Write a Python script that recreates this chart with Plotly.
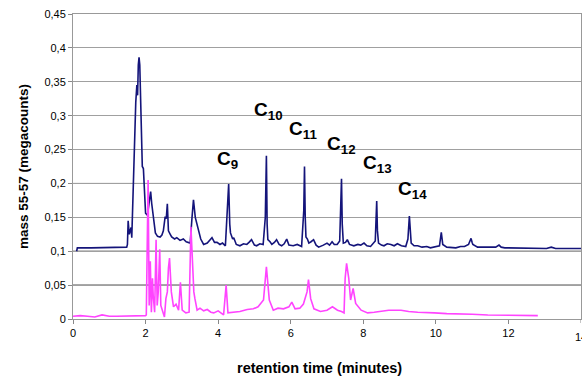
import plotly.graph_objects as go

# ---- data ----
blue_t = [0.10,0.12,0.5,1.0,1.48,1.50,1.52,1.55,1.60,1.62,1.67,1.70,1.73,1.76,1.78,1.80,1.82,1.84,1.86,1.88,
          1.91,1.94,1.97,2.00,2.05,2.10,2.14,2.17,2.20,2.24,2.27,2.33,2.40,2.45,2.49,2.54,2.57,2.60,2.63,2.68,
          2.72,2.80,2.86,2.95,3.04,3.12,3.23,3.28,3.32,3.37,3.42,3.46,3.52,3.60,3.70,3.78,3.83,3.90,3.97,4.05,
          4.12,4.20,4.25,4.29,4.32,4.34,4.40,4.43,4.50,4.60,4.70,4.79,4.85,4.92,5.00,5.06,5.15,5.24,5.30,5.33,
          5.35,5.37,5.43,5.48,5.55,5.61,5.68,5.75,5.82,5.89,5.95,6.07,6.18,6.30,6.36,6.38,6.40,6.42,6.46,6.50,
          6.56,6.63,6.70,6.77,6.90,7.00,7.07,7.14,7.20,7.28,7.35,7.40,7.42,7.45,7.51,7.56,7.62,7.74,7.85,7.93,
          8.02,8.10,8.20,8.33,8.37,8.39,8.42,8.50,8.57,8.66,8.76,8.85,8.94,9.05,9.17,9.23,9.27,9.29,9.32,9.40,
          9.50,9.62,9.75,9.85,9.96,10.10,10.15,10.17,10.19,10.30,10.42,10.55,10.68,10.79,10.90,10.97,11.00,11.02,11.15,11.34,
          11.50,11.65,11.74,11.80,11.90,12.10,12.30,12.50,12.72,12.90,13.05,13.18,13.30,13.50,13.64,13.80,14.00]
blue_v = [0.100,0.105,0.105,0.106,0.106,0.110,0.145,0.125,0.135,0.120,0.215,0.260,0.320,0.345,0.330,0.375,0.386,0.375,0.340,0.310,
          0.225,0.222,0.180,0.156,0.153,0.175,0.188,0.170,0.156,0.135,0.127,0.122,0.121,0.124,0.130,0.151,0.148,0.170,0.130,0.125,
          0.121,0.118,0.120,0.116,0.118,0.114,0.112,0.150,0.176,0.150,0.138,0.130,0.118,0.110,0.112,0.117,0.120,0.113,0.113,0.110,
          0.112,0.108,0.170,0.199,0.140,0.127,0.118,0.120,0.110,0.108,0.111,0.110,0.113,0.117,0.109,0.108,0.111,0.110,0.150,0.241,
          0.140,0.117,0.114,0.110,0.113,0.117,0.110,0.108,0.111,0.118,0.109,0.108,0.110,0.107,0.160,0.225,0.150,0.121,0.118,0.112,
          0.114,0.117,0.109,0.106,0.109,0.112,0.109,0.114,0.110,0.110,0.115,0.207,0.140,0.112,0.113,0.117,0.110,0.108,0.110,0.109,
          0.112,0.108,0.107,0.115,0.174,0.130,0.112,0.109,0.108,0.111,0.110,0.108,0.111,0.108,0.107,0.118,0.152,0.125,0.112,0.108,
          0.108,0.106,0.107,0.105,0.106,0.108,0.128,0.115,0.110,0.106,0.106,0.105,0.107,0.107,0.110,0.119,0.113,0.110,0.106,0.106,
          0.105,0.106,0.109,0.106,0.105,0.105,0.104,0.104,0.104,0.105,0.104,0.106,0.104,0.104,0.104,0.103,0.104]

pink_t = [0.00,0.20,0.40,0.60,0.80,1.00,1.20,1.40,1.60,1.80,2.00,2.02,2.07,2.10,2.13,2.16,2.19,2.21,2.25,2.29,
          2.32,2.35,2.39,2.42,2.47,2.52,2.56,2.60,2.63,2.66,2.71,2.77,2.84,2.91,2.96,3.01,3.11,3.20,3.25,3.30,
          3.33,3.36,3.42,3.50,3.60,3.70,3.80,3.88,4.00,4.15,4.22,4.27,4.40,4.60,4.80,4.97,5.10,5.25,5.33,5.41,
          5.52,5.65,5.80,5.95,6.03,6.12,6.25,6.35,6.45,6.49,6.55,6.64,6.82,7.00,7.15,7.29,7.40,7.47,7.50,7.54,
          7.60,7.65,7.72,7.79,7.94,8.12,8.30,8.49,8.70,9.04,9.25,9.50,9.75,9.96,10.30,10.69,11.00,11.43,11.80,12.17,
          12.50,12.81]
pink_v = [0.004,0.005,0.004,0.003,0.006,0.004,0.004,0.004,0.005,0.004,0.005,0.006,0.205,0.020,0.085,0.010,0.060,0.035,0.010,0.117,
          0.020,0.040,0.103,0.020,0.013,0.003,0.030,0.040,0.075,0.090,0.040,0.018,0.022,0.013,0.054,0.013,0.009,0.010,0.136,0.062,
          0.040,0.030,0.013,0.016,0.012,0.014,0.010,0.009,0.012,0.006,0.050,0.009,0.010,0.011,0.014,0.015,0.018,0.028,0.077,0.028,
          0.013,0.016,0.015,0.018,0.025,0.015,0.016,0.022,0.040,0.058,0.030,0.015,0.011,0.013,0.018,0.013,0.011,0.009,0.060,0.082,
          0.060,0.028,0.045,0.023,0.013,0.009,0.010,0.011,0.013,0.013,0.011,0.010,0.009,0.009,0.008,0.008,0.007,0.006,0.006,0.005,
          0.005,0.005]

label_text = ["9", "10", "11", "12", "13", "14"]
label_x = [3.90, 4.92, 5.89, 6.94, 7.93, 8.90]
label_y = [0.235, 0.307, 0.279, 0.257, 0.229, 0.191]

y_ticks = [0, 0.05, 0.1, 0.15, 0.2, 0.25, 0.3, 0.35, 0.4, 0.45]
y_tick_text = ["0", "0,05", "0,1", "0,15", "0,2", "0,25", "0,3", "0,35", "0,4", "0,45"]
x_ticks = [0, 2, 4, 6, 8, 10, 12]
x_last_tick = 14

FONT = "Liberation Sans, Arial, sans-serif"

fig = go.Figure()
fig.add_trace(go.Scatter(x=blue_t, y=blue_v, mode="lines",
                         line=dict(color="#14147a", width=1.6), showlegend=False))
fig.add_trace(go.Scatter(x=pink_t, y=pink_v, mode="lines",
                         line=dict(color="#ff44ff", width=1.6), showlegend=False))

for txt, x, y in zip(label_text, label_x, label_y):
    fig.add_annotation(x=x, y=y, xref="x", yref="y", xanchor="left", yanchor="middle",
                       text="<b>C<sub>" + txt + "</sub></b>", showarrow=False,
                       font=dict(family=FONT, size=19, color="black"))

# last x tick label, partly cut off by the page edge as in the reference
fig.add_annotation(x=x_last_tick, y=0, xref="x", yref="paper", yshift=-18, xanchor="center",
                   yanchor="middle", text=str(x_last_tick), showarrow=False,
                   font=dict(family=FONT, size=11, color="black"))
fig.add_shape(type="line", xref="x", x0=x_last_tick, x1=x_last_tick, yref="paper", y0=0, y1=-0.013,
              line=dict(color="#888", width=1))

# x-axis title as annotation (slightly left of plot centre in the reference)
fig.add_annotation(x=0.486, y=-0.16, xref="paper", yref="paper", xanchor="center", yanchor="middle",
                   text="<b>retention time (minutes)</b>", showarrow=False,
                   font=dict(family=FONT, size=14.5, color="black"))

for yv in [0.05, 0.1, 0.2]:
    fig.add_shape(type="line", xref="paper", x0=0, x1=1, yref="y", y0=yv, y1=yv,
                  line=dict(color="#202020", width=1), layer="below")

fig.update_layout(
    width=582, height=377,
    margin=dict(l=73, r=1, t=14, b=58, autoexpand=False),
    paper_bgcolor="white", plot_bgcolor="white",
    font=dict(family=FONT, size=11, color="black"),
    xaxis=dict(range=[0, 14], tickvals=x_ticks, ticks="outside", ticklen=4, tickcolor="#888",
               showgrid=False, showline=True, linecolor="#999", mirror=True, zeroline=False,
               tickfont=dict(family=FONT, size=11)),
    yaxis=dict(range=[0, 0.45], tickvals=y_ticks, ticktext=y_tick_text, ticks="outside", ticklen=4,
               tickcolor="#888", showgrid=True, gridcolor="#a0a0a0", showline=True, linecolor="#999",
               mirror=True, zeroline=False, tickfont=dict(family=FONT, size=11),
               title=dict(text="<b>mass 55-57 (megacounts)</b>", font=dict(family=FONT, size=13.5), standoff=12)),
)

fig.write_html("out.html", config={"displayModeBar": False},
               post_script="document.body.style.margin='0';")
